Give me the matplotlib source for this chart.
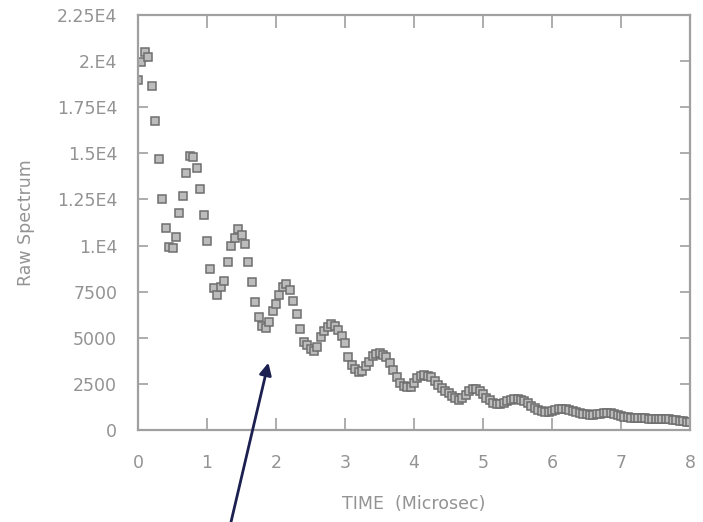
import numpy as np
import matplotlib
matplotlib.use("Agg")
import matplotlib.pyplot as plt

# Raw muon spectrum sampled every 0.05 microseconds
time_step = 0.05
counts = [
    19000, 19950, 20500, 20250, 18650, 16750, 14700, 12550, 10950, 9900,
    9850, 10450, 11750, 12700, 13950, 14850, 14800, 14200, 13050, 11650,
    10250, 8750, 7700, 7300, 7750, 8100, 9100, 9950, 10400, 10900,
    10550, 10100, 9100, 8050, 6950, 6150, 5650, 5550, 5850, 6450,
    6850, 7300, 7750, 7900, 7600, 7000, 6300, 5450, 4750, 4600,
    4400, 4300, 4500, 5050, 5350, 5600, 5750, 5650, 5400, 5100,
    4700, 3950, 3500, 3300, 3150, 3200, 3450, 3700, 4000, 4100,
    4150, 4050, 3950, 3650, 3250, 2900, 2550, 2400, 2350, 2350,
    2550, 2800, 2950, 3000, 2950, 2850, 2650, 2450, 2300, 2100,
    2000, 1850, 1750, 1650, 1750, 1900, 2100, 2200, 2200, 2100,
    1950, 1750, 1600, 1450, 1400, 1400, 1450, 1550, 1650, 1700,
    1700, 1650, 1550, 1450, 1300, 1200, 1100, 1050, 1000, 1000,
    1050, 1100, 1150, 1150, 1150, 1100, 1050, 1000, 900, 850,
    850, 800, 800, 850, 850, 900, 900, 900, 850, 800,
    750, 700, 700, 650, 650, 650, 650, 650, 600, 600,
    600, 600, 600, 600, 600, 550, 550, 500, 500, 450,
    450,
]
time_us = np.arange(len(counts)) * time_step

x_ticks = [0, 1, 2, 3, 4, 5, 6, 7, 8]
y_ticks = [0, 2500, 5000, 7500, 10000, 12500, 15000, 17500, 20000, 22500]
y_tick_labels = ["0", "2500", "5000", "7500", "1.E4", "1.25E4",
                 "1.5E4", "1.75E4", "2.E4", "2.25E4"]

text_gray = "#939393"
frame_gray = "#a0a0a0"

fig = plt.figure(figsize=(7.03, 5.22), dpi=100)
ax = fig.add_axes([138 / 703, 1 - 430 / 522, 552 / 703, 415 / 522])

ax.plot(time_us, counts, linestyle="none", marker="s", markersize=6.0,
        markerfacecolor="#bcbcbc", markeredgecolor="#6e6e6e",
        markeredgewidth=1.1)

ax.set_xlim(0, 8)
ax.set_ylim(0, 22500)
ax.set_xticks(x_ticks)
ax.set_xticklabels([str(t) for t in x_ticks])
ax.set_yticks(y_ticks)
ax.set_yticklabels(y_tick_labels)

for side in ax.spines.values():
    side.set_color(frame_gray)
    side.set_linewidth(1.6)

ax.tick_params(axis="both", direction="in", colors=frame_gray,
               labelcolor=text_gray, labelsize=12.5, width=1.2)
ax.tick_params(axis="x", length=9, pad=17, top=True)
ax.tick_params(axis="y", length=7, pad=15, right=True)

ax.set_xlabel("TIME  (Microsec)", color=text_gray, fontsize=12.5, labelpad=17)
ax.set_ylabel("Raw Spectrum", color=text_gray, fontsize=12.5, labelpad=16)

# Pointer to the early oscillation region
ax.annotate("", xy=(1.89, 3650), xycoords="data",
            xytext=(231 / 703, 0.0), textcoords="figure fraction",
            arrowprops=dict(arrowstyle="-|>", color="#1c2050", lw=2.0,
                            mutation_scale=18, shrinkA=0, shrinkB=0),
            annotation_clip=False)

fig.savefig("out.png", dpi=100, facecolor="white")
